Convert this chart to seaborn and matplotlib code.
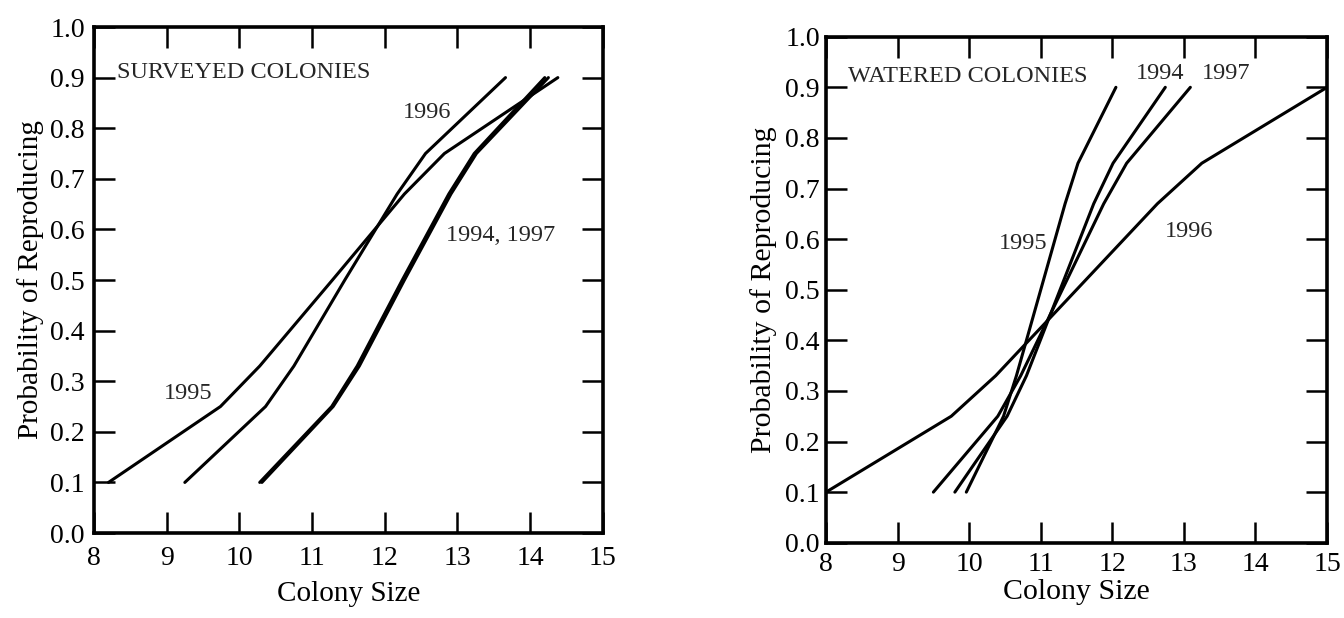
import numpy as np
import pandas as pd
import matplotlib
matplotlib.use("Agg")
import matplotlib.pyplot as plt
import seaborn as sns

sns.set_theme(style="ticks")
plt.rcParams["font.family"] = ["Liberation Serif", "DejaVu Serif"]

# probability levels at which the curves are drawn
prob = [0.10, 0.25, 0.33, 0.50, 0.67, 0.75, 0.90]

# Surveyed colonies: colony size at each probability level
surveyed = {
    "1995": [8.20, 9.74, 10.28, 11.28, 12.27, 12.82, 14.38],
    "1996": [9.25, 10.36, 10.75, 11.45, 12.17, 12.56, 13.66],
    "1994": [10.28, 11.27, 11.62, 12.24, 12.88, 13.23, 14.20],
    "1997": [10.31, 11.29, 11.65, 12.27, 12.91, 13.26, 14.25],
}
# Watered colonies
watered = {
    "1995": [9.96, 10.48, 10.66, 11.00, 11.34, 11.52, 12.05],
    "1994": [9.80, 10.53, 10.80, 11.27, 11.74, 12.01, 12.74],
    "1997": [9.50, 10.40, 10.72, 11.30, 11.88, 12.20, 13.09],
    "1996": [8.00, 9.75, 10.37, 11.50, 12.63, 13.25, 15.00],
}

x_ticks = [8, 9, 10, 11, 12, 13, 14, 15]
y_ticks = [0.0, 0.1, 0.2, 0.3, 0.4, 0.5, 0.6, 0.7, 0.8, 0.9, 1.0]

surveyed_labels = [("1996", 12.58, 0.832), ("1994, 1997", 13.60, 0.587), ("1995", 9.29, 0.275)]
watered_labels = [("1994", 12.67, 0.928), ("1997", 13.59, 0.928), ("1995", 10.75, 0.592), ("1996", 13.07, 0.616)]


def to_long(d):
    rows = []
    for yr, xs in d.items():
        for x, p in zip(xs, prob):
            rows.append({"year": yr, "size": x, "prob": p})
    return pd.DataFrame(rows)


fig = plt.figure(figsize=(13.44, 6.18), dpi=100)
ax1 = fig.add_axes([0.0699, 0.1375, 0.3787, 0.8188])
ax2 = fig.add_axes([0.6146, 0.1218, 0.3728, 0.8188])


def style_axes(ax, tick_fs, label_fs, xpad, ypad, xlab_y, ylab_x):
    ax.set_xlim(8, 15)
    ax.set_ylim(0, 1.0)
    ax.set_xticks(x_ticks)
    ax.set_yticks(y_ticks)
    ax.set_xticklabels([str(t) for t in x_ticks])
    ax.set_yticklabels([f"{t:.1f}" for t in y_ticks])
    ax.tick_params(direction="in", length=15, width=1.8, top=True, right=True,
                   labelsize=tick_fs, colors="black")
    ax.tick_params(axis="x", pad=xpad)
    ax.tick_params(axis="y", pad=ypad)
    for s in ax.spines.values():
        s.set_linewidth(2.6)
        s.set_color("black")
        s.set_visible(True)
    ax.set_xlabel("Colony Size", fontsize=label_fs, color="black")
    ax.set_ylabel("Probability of Reproducing", fontsize=label_fs, color="black")
    ax.xaxis.set_label_coords(0.5, xlab_y)
    ax.yaxis.set_label_coords(ylab_x, 0.5)
    ax.grid(False)
    ax.set_facecolor("white")


df1 = to_long(surveyed)
for yr in surveyed:
    sns.lineplot(data=df1[df1["year"] == yr], x="size", y="prob", ax=ax1,
                 color="black", linewidth=2.2, estimator=None, sort=False)
df2 = to_long(watered)
for yr in watered:
    sns.lineplot(data=df2[df2["year"] == yr], x="size", y="prob", ax=ax2,
                 color="black", linewidth=2.2, estimator=None, sort=False)

style_axes(ax1, 20, 21, 9, 6.5, -0.095, -0.098)
style_axes(ax2, 20, 21.5, 6.5, 4.5, -0.071, -0.098)

fs_txt = 17.5
ax1.text(8.32, 0.91, "SURVEYED COLONIES", fontsize=fs_txt, va="center", ha="left")
for t, x, y in surveyed_labels:
    ax1.text(x, y, t, fontsize=fs_txt, va="center", ha="center")
ax2.text(8.31, 0.921, "WATERED COLONIES", fontsize=fs_txt, va="center", ha="left")
for t, x, y in watered_labels:
    ax2.text(x, y, t, fontsize=fs_txt, va="center", ha="center")

fig.savefig("out.png", dpi=100, facecolor="white")
